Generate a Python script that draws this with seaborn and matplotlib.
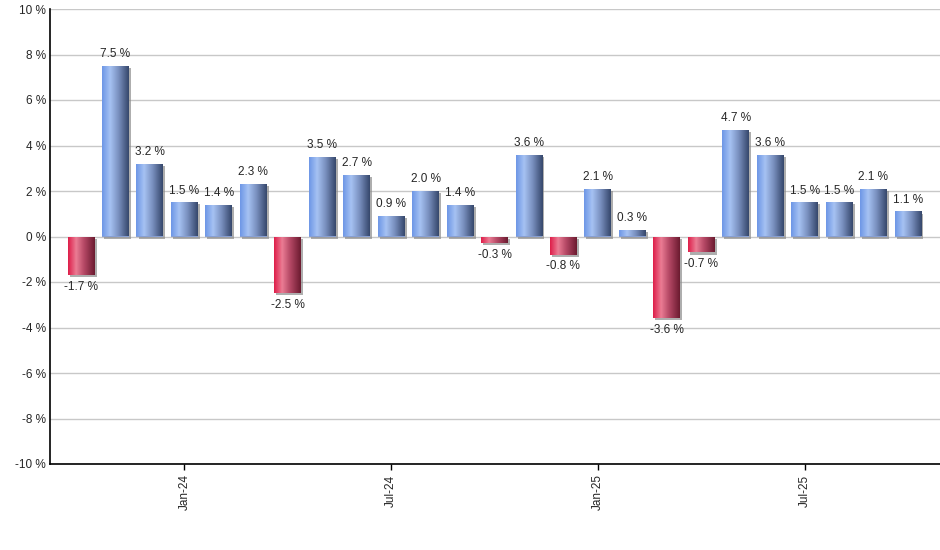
import numpy as np
import pandas as pd
import matplotlib
matplotlib.use("Agg")
import matplotlib.pyplot as plt
import matplotlib.patheffects as pe
from matplotlib.colors import LinearSegmentedColormap
import seaborn as sns

months = ["Oct-23", "Nov-23", "Dec-23", "Jan-24", "Feb-24", "Mar-24", "Apr-24",
          "May-24", "Jun-24", "Jul-24", "Aug-24", "Sep-24", "Oct-24", "Nov-24",
          "Dec-24", "Jan-25", "Feb-25", "Mar-25", "Apr-25", "May-25", "Jun-25",
          "Jul-25", "Aug-25", "Sep-25", "Oct-25"]
returns = [-1.7, 7.5, 3.2, 1.5, 1.4, 2.3, -2.5, 3.5, 2.7, 0.9, 2.0, 1.4, -0.3,
           3.6, -0.8, 2.1, 0.3, -3.6, -0.7, 4.7, 3.6, 1.5, 1.5, 2.1, 1.1]
tick_months = ["Jan-24", "Jul-24", "Jan-25", "Jul-25"]

df = pd.DataFrame({"month": months, "ret": returns})
df["sign"] = np.where(df["ret"] >= 0, "pos", "neg")

sns.set_style("white")
plt.rcParams["font.family"] = ["Liberation Sans", "DejaVu Sans"]

fig = plt.figure(figsize=(9.4, 5.5), dpi=100)
ax = fig.add_axes([50 / 940, 86 / 550, 890 / 940, 455 / 550])

sns.barplot(data=df, x="month", y="ret", hue="sign", order=months,
            hue_order=["pos", "neg"], palette={"pos": "#7a9be0", "neg": "#d8365a"},
            dodge=False, width=0.78, legend=False, linewidth=0, ax=ax, zorder=2)

# gradient fills like the original chart
blue = LinearSegmentedColormap.from_list(
    "b", [(0, "#6e97e6"), (0.3, "#a6c2f3"), (0.6, "#7c93c2"), (1, "#36486c")])
red = LinearSegmentedColormap.from_list(
    "r", [(0, "#de1f4a"), (0.3, "#eb7c94"), (0.6, "#b54865"), (1, "#6c1b30")])
grad = np.linspace(0, 1, 64).reshape(1, -1)

for p in ax.patches:
    x, y = p.get_x(), p.get_y()
    w, h = p.get_width(), p.get_height()
    if h == 0:
        continue
    cmap = blue if h > 0 else red
    p.set_edgecolor("none")
    p.set_linewidth(0)
    p.set_path_effects([pe.SimplePatchShadow(offset=(1.5, -1.5), shadow_rgbFace="#8c8c8c", alpha=0.7),
                        pe.Normal()])
    im = ax.imshow(grad, cmap=cmap, aspect="auto", zorder=3,
                   extent=[x, x + w, min(y, y + h), max(y, y + h)])
    im.set_clip_path(p)

for i, v in enumerate(returns):
    if v >= 0:
        ax.text(i, v + 0.25, f"{v:.1f} %", ha="center", va="bottom", fontsize=8.5, zorder=5)
    else:
        ax.text(i, v - 0.25, f"{v:.1f} %", ha="center", va="top", fontsize=8.5, zorder=5)

ax.set_ylim(-10, 10)
ax.set_xlim(-0.9, 24.93)
ax.set_yticks(np.arange(-10, 11, 2))
ax.set_yticklabels([f"{t} %" for t in range(-10, 11, 2)], fontsize=8.5)
ax.set_xticks([months.index(m) for m in tick_months])
ax.set_xticklabels(tick_months, rotation=90, fontsize=8.5)
ax.tick_params(axis="x", length=4, width=1, color="black", bottom=True)
ax.tick_params(axis="y", length=0, pad=3)
ax.grid(axis="y", color="#c8c8c8", linewidth=1, zorder=0)
ax.set_axisbelow(True)
ax.set_xlabel("")
ax.set_ylabel("")
for s in ["top", "right"]:
    ax.spines[s].set_visible(False)
for s in ["left", "bottom"]:
    ax.spines[s].set_color("black")
    ax.spines[s].set_linewidth(1.2)

fig.savefig("out.png", dpi=100)
